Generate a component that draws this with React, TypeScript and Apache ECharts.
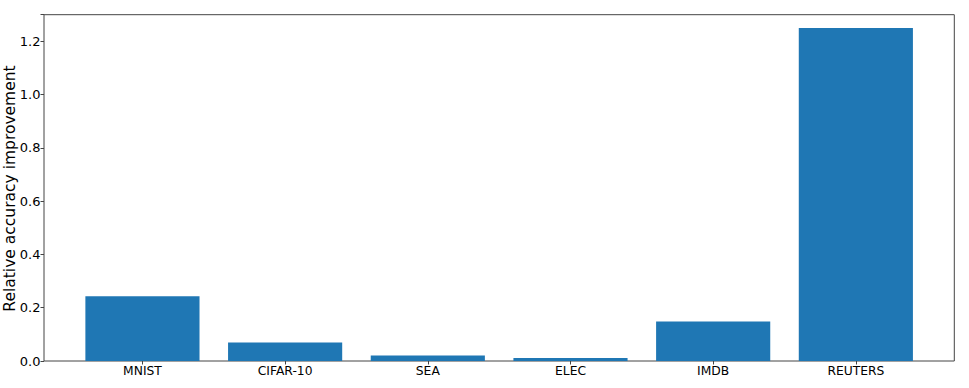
import React, { useEffect, useRef } from "react";
import * as echarts from "echarts";

const categories = ["MNIST", "CIFAR-10", "SEA", "ELEC", "IMDB", "REUTERS"];
const improvement = [0.243, 0.069, 0.021, 0.011, 0.148, 1.25];
const yLabel = "Relative accuracy improvement";
const yMin = 0;
const yMax = 1.3;
const yStep = 0.2;

export default function App() {
  const ref = useRef<HTMLDivElement>(null);
  useEffect(() => {
    if (!ref.current) return;
    const chart = echarts.init(ref.current, null, { renderer: "svg" });
    const font = "DejaVu Sans";
    const frame = { left: 44, right: 14.7, top: 14.7, bottom: 27 };
    const band = (969 - frame.left - frame.right) / 6.38;
    const dataLeft = frame.left + 0.19 * band;
    const dataRight = frame.right + 0.19 * band;
    chart.setOption({
      animation: false,
      backgroundColor: "#fff",
      grid: [
        {
          ...frame,
          show: true,
          borderColor: "#444",
          borderWidth: 1,
          backgroundColor: "transparent",
          containLabel: false,
        },
        {
          left: dataLeft,
          right: dataRight,
          top: frame.top,
          bottom: frame.bottom,
          containLabel: false,
        },
      ],
      xAxis: [
        { gridIndex: 0, type: "value", show: false, min: 0, max: 1 },
        {
          gridIndex: 1,
          type: "category",
          data: categories,
          boundaryGap: true,
          axisLine: { show: false },
          axisTick: {
            show: true,
            alignWithLabel: true,
            length: 3.5,
            lineStyle: { color: "#444", width: 1 },
          },
          axisLabel: {
            color: "#000",
            fontFamily: font,
            fontSize: 12.3,
            margin: 4,
          },
        },
      ],
      yAxis: [
        { gridIndex: 0, type: "value", show: false, min: 0, max: 1 },
        {
          gridIndex: 1,
          type: "value",
          min: yMin,
          max: yMax,
          interval: yStep,
          offset: dataLeft - frame.left,
          axisLine: { show: false },
          splitLine: { show: false },
          axisTick: {
            show: true,
            length: 3.5,
            lineStyle: { color: "#444", width: 1 },
          },
          axisLabel: {
            color: "#000",
            fontFamily: font,
            fontSize: 13,
            margin: 3.5,
            formatter: (v: number) => (v > yMax - 0.01 ? "" : v.toFixed(1)),
          },
        },
      ],
      series: [
        {
          type: "bar",
          xAxisIndex: 1,
          yAxisIndex: 1,
          data: improvement,
          barWidth: "80%",
          itemStyle: { color: "#1f77b4" },
        },
      ],
      graphic: [
        {
          type: "text",
          x: 9.5,
          y: 188.5,
          rotation: Math.PI / 2,
          style: {
            text: yLabel,
            fontFamily: font,
            fontSize: 15.5,
            fill: "#000",
            align: "center",
            verticalAlign: "middle",
          },
        },
      ],
    });
    return () => chart.dispose();
  }, []);
  return (
    <div
      ref={ref}
      style={{ position: "fixed", left: 0, top: 0, width: 969, height: 388 }}
    />
  );
}
